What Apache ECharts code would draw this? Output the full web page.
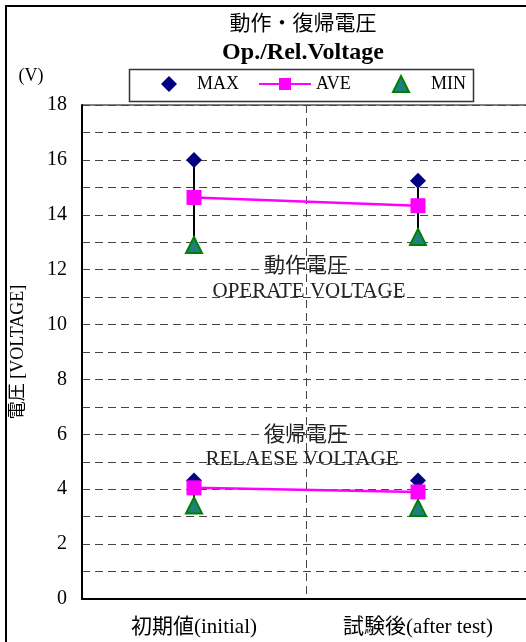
<!DOCTYPE html>
<html><head><meta charset="utf-8">
<script src="https://cdn.jsdelivr.net/npm/echarts/dist/echarts.min.js"></script>
<style>html,body{margin:0;padding:0;background:#fff}#c{width:526px;height:642px}</style>
</head><body><div id="c"></div>
<script>
const categories = ['初期値(initial)', '試験後(after test)'];
const yTickLabels = [0, 2, 4, 6, 8, 10, 12, 14, 16, 18];
const opMax = [16.0, 15.24];
const opAve = [14.63, 14.33];
const opMin = [12.9, 13.19];
const relMax = [4.32, 4.32];
const relAve = [4.05, 3.9];
const relMin = [3.41, 3.32];

const FF = '"Liberation Serif", "Noto Sans CJK JP", serif';
const chart = echarts.init(document.getElementById('c'), null, {renderer: 'canvas'});

const hiLo = categories.map((c, i) => [i, opMax[i], opMin[i]])
  .concat(categories.map((c, i) => [i, relMax[i], relMin[i]]));

const maxStyle = {symbol: 'diamond', symbolSize: 16, symbolKeepAspect: true, itemStyle: {color: '#000080', opacity: 1}};
const minStyle = {symbol: 'triangle', symbolSize: 16, symbolKeepAspect: true, itemStyle: {color: '#1f7f7f', borderColor: '#008000', borderWidth: 2, opacity: 1}};
const aveStyle = {symbol: 'rect', symbolSize: 15, itemStyle: {color: '#ff00ff', opacity: 1}, lineStyle: {color: '#ff00ff', width: 2.5}};

const legendBase = {
  top: 75, padding: 0, itemHeight: 16, selectedMode: false,
  textStyle: {fontFamily: FF, fontSize: 18, color: '#000'}
};

chart.setOption({
  animation: false,
  backgroundColor: '#fff',
  grid: {left: 82, top: 105, right: -4, bottom: 43, show: true, borderColor: '#000', borderWidth: 1, outerBoundsMode: 'none', containLabel: false},
  legend: [
    Object.assign({}, legendBase, {left: 161, itemWidth: 16, data: ['MAX'],
      formatter: n => '{p|}' + n, textStyle: {fontFamily: FF, fontSize: 18, color: '#000', rich: {p: {width: 15}}}}),
    Object.assign({}, legendBase, {left: 258, itemWidth: 52, itemHeight: 15, data: ['AVE']}),
    Object.assign({}, legendBase, {left: 392, itemWidth: 16, data: ['MIN'],
      formatter: n => '{p|}' + n, textStyle: {fontFamily: FF, fontSize: 18, color: '#000', rich: {p: {width: 17}}}})
  ],
  xAxis: {
    type: 'category', data: categories, boundaryGap: true,
    axisLine: {lineStyle: {color: '#000', width: 2}},
    axisTick: {show: false},
    axisLabel: {fontFamily: FF, fontSize: 21, color: '#000', margin: 18},
    splitLine: {show: true, lineStyle: {color: '#444', width: 1, type: [8, 5]}}
  },
  yAxis: {
    type: 'value', min: 0, max: 18, interval: 1,
    name: '電圧 [VOLTAGE]', nameLocation: 'middle', nameGap: 55, nameRotate: 90,
    nameTextStyle: {fontFamily: FF, fontSize: 18, color: '#000'},
    axisLine: {show: true, lineStyle: {color: '#000', width: 2}},
    axisTick: {show: false},
    axisLabel: {fontFamily: FF, fontSize: 20, color: '#000', margin: 15,
      formatter: v => yTickLabels.indexOf(v) >= 0 ? String(v) : ''},
    splitLine: {show: true, lineStyle: {color: '#444', width: 1, type: [8, 5]}}
  },
  graphic: [
    {type: 'rect', shape: {x: 6, y: 6, width: 700, height: 800}, style: {fill: 'none', stroke: '#000', lineWidth: 2}, z: 100, silent: true},
    {type: 'rect', shape: {x: 129.5, y: 69.5, width: 344, height: 32}, style: {fill: 'none', stroke: '#333', lineWidth: 1.5}, z: 100, silent: true},
    {type: 'text', x: 303, y: 24, style: {text: '動作・復帰電圧', font: '21px ' + FF, fill: '#000', align: 'center', verticalAlign: 'middle'}},
    {type: 'text', x: 303, y: 53, style: {text: 'Op./Rel.Voltage', font: 'bold 24px ' + FF, fill: '#000', align: 'center', verticalAlign: 'middle'}},
    {type: 'text', x: 31, y: 76, style: {text: '(V)', font: '18px ' + FF, fill: '#000', align: 'center', verticalAlign: 'middle'}},
    {type: 'text', x: 306, y: 266, style: {text: '動作電圧', font: '21px ' + FF, fill: '#222', align: 'center', verticalAlign: 'middle'}},
    {type: 'text', x: 309, y: 291, style: {text: 'OPERATE VOLTAGE', font: '21px ' + FF, fill: '#222', align: 'center', verticalAlign: 'middle'}},
    {type: 'text', x: 306, y: 435, style: {text: '復帰電圧', font: '21px ' + FF, fill: '#222', align: 'center', verticalAlign: 'middle'}},
    {type: 'text', x: 302, y: 459, style: {text: 'RELAESE VOLTAGE', font: '21px ' + FF, fill: '#222', align: 'center', verticalAlign: 'middle'}}
  ],
  series: [
    {type: 'custom', name: 'hilo', data: hiLo, encode: {x: 0, y: [1, 2]}, z: 1,
      renderItem: (params, api) => {
        const p1 = api.coord([api.value(0), api.value(1)]);
        const p2 = api.coord([api.value(0), api.value(2)]);
        return {type: 'line', shape: {x1: p1[0], y1: p1[1], x2: p2[0], y2: p2[1]}, style: {stroke: '#000', lineWidth: 2}};
      }},
    Object.assign({type: 'scatter', name: 'MAX', data: opMax, z: 2}, maxStyle),
    Object.assign({type: 'scatter', name: 'MAX', data: relMax, z: 2}, maxStyle),
    Object.assign({type: 'scatter', name: 'MIN', data: opMin, z: 3}, minStyle),
    Object.assign({type: 'scatter', name: 'MIN', data: relMin, z: 3}, minStyle),
    Object.assign({type: 'line', name: 'AVE', data: opAve, z: 4}, aveStyle),
    Object.assign({type: 'line', name: 'AVE', data: relAve, z: 4}, aveStyle)
  ]
});
</script></body></html>
